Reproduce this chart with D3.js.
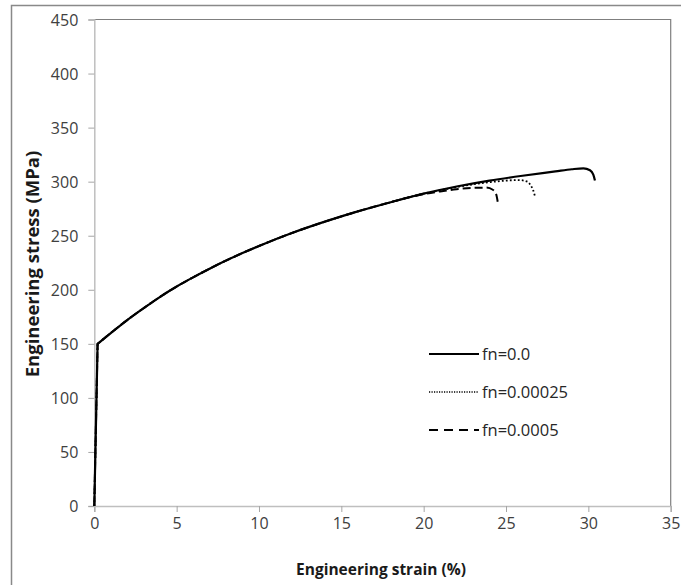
<!DOCTYPE html>
<html><head><meta charset="utf-8">
<script src="https://cdn.jsdelivr.net/npm/d3@7"></script>
<style>body{margin:0;background:#fff;} svg{display:block;}</style>
</head><body>
<script>
// Data (strain %, stress MPa)
const strainSolid = [0,0.2,1,2,3,4,5,6,7,8,9,10,12,14,16,18,20,22,24,26,28,29,29.7,30.1,30.3,30.4];
const stressSolid = [0,150,160,172,183,193.5,203,211.5,219.5,227,234,240.5,252.5,263,272.5,281,289,295.5,301,305.5,309.5,311.5,312.3,310.5,306.5,301];
const strainDotted = [0,0.2,1,2,3,4,5,6,7,8,9,10,12,14,16,18,20,21,22,23,24,25,25.8,26.3,26.5,26.65,26.75];
const stressDotted = [0,150,160,172,183,193.5,203,211.5,219.5,227,234,240.5,252.5,263,272.5,281,289,292,295,297.5,299.5,301,301.5,300,296.5,292,287];
const strainDashed = [0,0.2,1,2,3,4,5,6,7,8,9,10,12,14,16,18,19,20,21,22,23,23.8,24.2,24.4,24.5];
const stressDashed = [0,150,160,172,183,193.5,203,211.5,219.5,227,234,240.5,252.5,263,272.5,281,285,288.5,291,293,294.3,294.5,292.5,288.5,281];
const seriesNames = ["fn=0.0","fn=0.00025","fn=0.0005"];
const xTicks = [0,5,10,15,20,25,30,35];
const yTicks = [0,50,100,150,200,250,300,350,400,450];

const W=681,H=585;
const svg=d3.select("body").append("svg").attr("width",W).attr("height",H);
const font="'Open Sans', 'Liberation Sans', sans-serif";

// outer border
svg.append("rect").attr("x",11.5).attr("y",5.5).attr("width",W+20).attr("height",H+20)
  .attr("fill","none").attr("stroke","#898989").attr("stroke-width",1.5);

const x=d3.scaleLinear().domain([0,35]).range([94.3,670.7]);
const y=d3.scaleLinear().domain([0,450]).range([506,19.5]);

// plot border top/right
svg.append("path").attr("d",`M${x(0)},${y(450)}H${x(35)}V${y(0)}`)
  .attr("fill","none").attr("stroke","#7f7f7f").attr("stroke-width",1.2);

const xAxis=svg.append("g").attr("transform",`translate(0,${y(0)})`)
  .call(d3.axisBottom(x).tickValues(xTicks).tickSize(6).tickPadding(6));
const yAxis=svg.append("g").attr("transform",`translate(${x(0)},0)`)
  .call(d3.axisLeft(y).tickValues(yTicks).tickSize(6).tickPadding(10));
[xAxis,yAxis].forEach(g=>{
  g.selectAll(".domain").attr("stroke","#bfbfbf").attr("stroke-width",1.5);
  g.selectAll(".tick line").attr("stroke","#a6a6a6");
  g.selectAll("text").attr("font-family",font).attr("font-size",16).attr("fill","#404040");
});
yAxis.selectAll("text").attr("dy","0.36em");

// axis titles
svg.append("text").attr("x",381).attr("y",575).attr("text-anchor","middle")
  .attr("font-family",font).attr("font-weight","bold").attr("font-size",15.5).attr("fill","#1a1a1a")
  .text("Engineering strain (%)");
svg.append("text").attr("transform",`translate(38.5,${264}) rotate(-90)`).attr("text-anchor","middle")
  .attr("font-family",font).attr("font-weight","bold").attr("font-size",18.5).attr("fill","#1a1a1a")
  .text("Engineering stress (MPa)");

const series=[
  {xs:strainDashed,ys:stressDashed,dash:"8,4",w:2},
  {xs:strainDotted,ys:stressDotted,dash:"1.8,2.2",w:1.8},
  {xs:strainSolid,ys:stressSolid,dash:null,w:2.2}
];
series.forEach(s=>{
  const pts=s.xs.map((v,i)=>[v,s.ys[i]]);
  const elastic=pts.slice(0,2), plastic=pts.slice(1);
  const lin=d3.line().x(d=>x(d[0])).y(d=>y(d[1]));
  const smooth=d3.line().x(d=>x(d[0])).y(d=>y(d[1])).curve(d3.curveMonotoneX);
  svg.append("path").attr("d",lin(elastic)+smooth(plastic).replace(/^M[^CLc]*/,m=>"L"+m.slice(1)))
    .attr("fill","none").attr("stroke","#000").attr("stroke-width",s.w)
    .attr("stroke-linejoin","round").attr("stroke-dasharray",s.dash);
});

// legend
const legY=[354,392,430];
const legStyles=[{dash:null,w:2.2},{dash:"1.2,1.3",w:1.3},{dash:"9,6",w:2}];
seriesNames.forEach((n,i)=>{
  svg.append("line").attr("x1",429).attr("x2",479).attr("y1",legY[i]).attr("y2",legY[i])
    .attr("stroke","#000").attr("stroke-width",legStyles[i].w).attr("stroke-dasharray",legStyles[i].dash);
  svg.append("text").attr("x",482).attr("y",legY[i]+6).attr("font-family",font).attr("font-size",16.5)
    .attr("fill","#262626").text(n);
});
</script>
</body></html>
